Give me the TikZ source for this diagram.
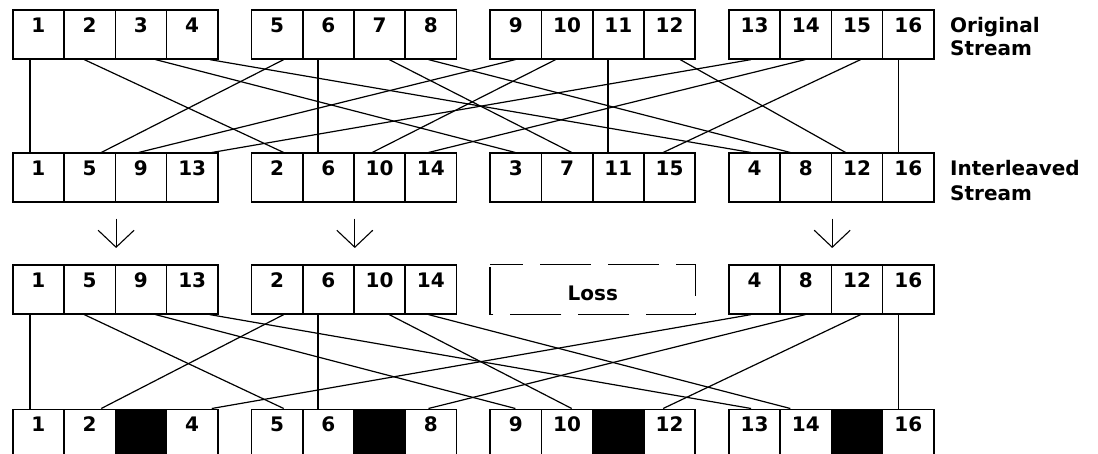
\documentclass[tikz,border=0pt]{standalone}
\usepackage{fontspec}
\setmainfont{DejaVu Sans}
\usetikzlibrary{arrows.meta}

\newcommand{\numfont}{\fontsize{20}{23}\selectfont\bfseries}
\tikzset{
  box/.style={draw, line width=1.6pt, minimum width=51.25pt, minimum height=48.5pt, inner sep=0pt, anchor=north west},
  cell/.style={box, label={[anchor=north, inner sep=0pt, yshift=-8pt, font=\numfont]north:#1}},
  gone/.style={box, fill=black},
  wire/.style={line width=1.2pt},
  down/.style={line width=1.1pt, -{Straight Barb[length=17pt, width=36pt]}, shorten <=16pt, shorten >=16.5pt},
  lossline/.style={line width=1.6pt, dash pattern=on 51pt off 17pt, dash phase=18pt},
}

\begin{document}
\begin{tikzpicture}[x=1pt, y=-1pt]
    \useasboundingbox (0,0) rectangle (1098,454);
    % original stream
    \foreach \p [evaluate=\p as \x using {12+238.7*int((\p-1)/4)+51.25*mod(\p-1,4)}] in {1,...,16}
      \node[cell=\p] (a\p) at (\x,9.5) {};
    % interleaved stream
    \foreach \p/\n [evaluate=\p as \x using {12+238.7*int((\p-1)/4)+51.25*mod(\p-1,4)}] in
      {1/1, 2/5, 3/9, 4/13, 5/2, 6/6, 7/10, 8/14, 9/3, 10/7, 11/11, 12/15, 13/4, 14/8, 15/12, 16/16}
      \node[cell=\n] (b\p) at (\x,152.5) {};
    % received, third block lost
    \foreach \p/\n [evaluate=\p as \x using {12+238.7*int((\p-1)/4)+51.25*mod(\p-1,4)}] in
      {1/1, 2/5, 3/9, 4/13, 5/2, 6/6, 7/10, 8/14, 13/4, 14/8, 15/12, 16/16}
      \node[cell=\n] (c\p) at (\x,264.5) {};
    \node[box, draw=none, minimum width=204pt, text height=23pt, font=\numfont] (loss) at (490,264.5) {Loss};
    \draw[lossline] (loss.north west) -- (loss.north east) -- (loss.south east) -- (loss.south west) -- cycle;
    % de-interleaved
    \foreach \p [evaluate=\p as \x using {12+238.7*int((\p-1)/4)+51.25*mod(\p-1,4)}] in {1,2,4,5,6,8,9,10,12,13,14,16}
      \node[cell=\p] (d\p) at (\x,408.5) {};
    \foreach \p [evaluate=\p as \x using {12+238.7*int((\p-1)/4)+51.25*mod(\p-1,4)}] in {3,7,11,15}
      \node[gone] (d\p) at (\x,408.5) {};

    \node[anchor=north west, inner sep=0pt, align=left, font=\numfont] (orig) at (950,17) {Original\\Stream};
    \node[anchor=north west, inner sep=0pt, align=left, font=\numfont\fontsize{20}{25}\selectfont] (inter) at (950,160) {Interleaved\\Stream};

    % interleaving
    \foreach \n/\q/\s/\d in {1/1/18/18, 2/5/21/33, 3/9/41/26, 4/13/44/23, 5/2/33/38, 6/6/16/16,
        7/10/36/31, 8/14/24/11, 9/3/26/24, 10/7/15/19, 11/11/16/16, 12/15/37/15,
        13/4/23/46, 14/8/26/24, 15/12/30/20, 16/16/17/17}
      \draw[wire] ([xshift=\s pt]a\n.south west) -- ([xshift=\d pt]b\q.north west);
    \draw[down] (b2.south east) -- (c2.north east);
    \draw[down] (b6.south east) -- (c6.north east);
    \draw[down] (b14.south east) -- (c14.north east);
    % de-interleaving
    \foreach \q/\n/\s/\d in {1/1/18/18, 5/2/33/38, 13/4/23/46, 2/5/21/33, 6/6/16/16, 14/8/26/24,
        3/9/41/26, 7/10/36/31, 15/12/30/20, 4/13/44/23, 8/14/24/11, 16/16/17/17}
      \draw[wire] ([xshift=\s pt]c\q.south west) -- ([xshift=\d pt]d\n.north west);
\end{tikzpicture}
\end{document}
